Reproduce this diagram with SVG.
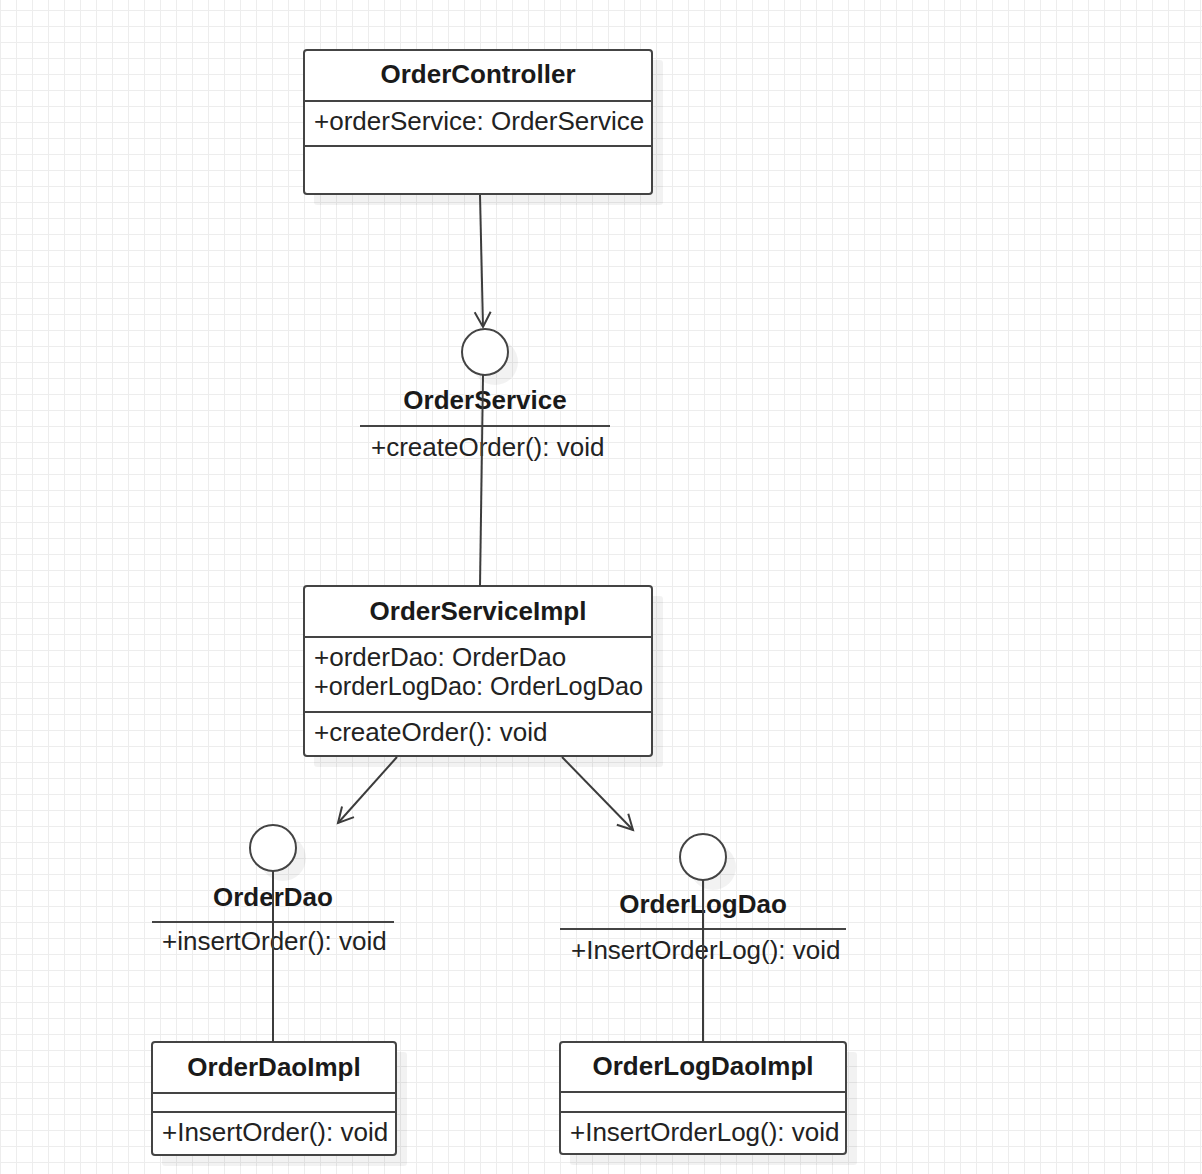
<svg xmlns="http://www.w3.org/2000/svg" width="1202" height="1174" viewBox="0 0 1202 1174">
<defs>
  <pattern id="grid" x="0" y="10" width="16" height="16" patternUnits="userSpaceOnUse">
    <path d="M0 0 H16 M0 0 V16" fill="none" stroke="#ededed" stroke-width="2"/>
  </pattern>
  <marker id="open" markerWidth="20" markerHeight="20" refX="0" refY="0" viewBox="-16 -10 18 20" orient="auto" markerUnits="userSpaceOnUse">
    <path d="M-15 -8 L0 0 L-15 8" fill="none" stroke="#3c3c3c" stroke-width="2"/>
  </marker>
</defs>
<style>
  .box{fill:#fff;stroke:#444;stroke-width:2}
  .shadow{fill:#000;opacity:0.05}
  .sep{stroke:#444;stroke-width:2;fill:none}
  .edge{stroke:#3c3c3c;stroke-width:2;fill:none}
  .title{font-family:"Liberation Sans",Arial,sans-serif;font-size:26px;font-weight:bold;fill:#1a1a1a;text-anchor:middle}
  .member{font-family:"Liberation Sans",Arial,sans-serif;font-size:26px;fill:#222}
</style>
<rect width="1202" height="1174" fill="#fff"/>
<rect width="1202" height="1174" fill="url(#grid)"/>

<g id="OrderController">
  <rect class="shadow" x="314" y="60" width="349" height="145" rx="3"/>
  <rect class="box" x="304" y="50" width="348" height="144" rx="3"/>
  <line class="sep" x1="304" y1="101" x2="652" y2="101"/>
  <line class="sep" x1="304" y1="146" x2="652" y2="146"/>
  <text class="title" x="478" y="83">OrderController</text>
  <text class="member" x="314" y="130">+orderService: OrderService</text>
</g>

<g id="OrderService">
  <circle class="shadow" cx="495" cy="362" r="23"/>
  <circle class="box" cx="485" cy="352" r="23"/>
  <line class="sep" x1="360" y1="426" x2="610" y2="426"/>
  <text class="title" x="485" y="409">OrderService</text>
  <text class="member" x="371" y="456">+createOrder(): void</text>
</g>

<g id="OrderServiceImpl">
  <rect class="shadow" x="314" y="596" width="349" height="171" rx="3"/>
  <rect class="box" x="304" y="586" width="348" height="170" rx="3"/>
  <line class="sep" x1="304" y1="637" x2="652" y2="637"/>
  <line class="sep" x1="304" y1="712" x2="652" y2="712"/>
  <text class="title" x="478" y="620">OrderServiceImpl</text>
  <text class="member" x="314" y="666">+orderDao: OrderDao</text>
  <text class="member" x="314" y="695" textLength="329" lengthAdjust="spacingAndGlyphs">+orderLogDao: OrderLogDao</text>
  <text class="member" x="314" y="741">+createOrder(): void</text>
</g>

<g id="OrderDao">
  <circle class="shadow" cx="283" cy="858" r="23"/>
  <circle class="box" cx="273" cy="848" r="23"/>
  <line class="sep" x1="152" y1="922" x2="394" y2="922"/>
  <text class="title" x="273" y="906">OrderDao</text>
  <text class="member" x="162" y="950">+insertOrder(): void</text>
</g>

<g id="OrderLogDao">
  <circle class="shadow" cx="713" cy="867" r="23"/>
  <circle class="box" cx="703" cy="857" r="23"/>
  <line class="sep" x1="560" y1="929" x2="846" y2="929"/>
  <text class="title" x="703" y="913">OrderLogDao</text>
  <text class="member" x="571" y="959">+InsertOrderLog(): void</text>
</g>

<g id="OrderDaoImpl">
  <rect class="shadow" x="162" y="1052" width="245" height="114" rx="3"/>
  <rect class="box" x="152" y="1042" width="244" height="113" rx="3"/>
  <line class="sep" x1="152" y1="1093" x2="396" y2="1093"/>
  <line class="sep" x1="152" y1="1112" x2="396" y2="1112"/>
  <text class="title" x="274" y="1076">OrderDaoImpl</text>
  <text class="member" x="162" y="1141">+InsertOrder(): void</text>
</g>

<g id="OrderLogDaoImpl">
  <rect class="shadow" x="570" y="1052" width="287" height="113" rx="3"/>
  <rect class="box" x="560" y="1042" width="286" height="112" rx="3"/>
  <line class="sep" x1="560" y1="1092" x2="846" y2="1092"/>
  <line class="sep" x1="560" y1="1112" x2="846" y2="1112"/>
  <text class="title" x="703" y="1075">OrderLogDaoImpl</text>
  <text class="member" x="570" y="1141">+InsertOrderLog(): void</text>
</g>

<g id="connectors">
  <line class="edge" x1="480" y1="195" x2="483" y2="327" marker-end="url(#open)"/>
  <line class="edge" x1="483" y1="375" x2="480" y2="586"/>
  <line class="edge" x1="397" y1="757" x2="338" y2="823" marker-end="url(#open)"/>
  <line class="edge" x1="562" y1="757" x2="633" y2="830" marker-end="url(#open)"/>
  <line class="edge" x1="273" y1="871" x2="273" y2="1042"/>
  <line class="edge" x1="703" y1="880" x2="703" y2="1042"/>
</g>
</svg>
